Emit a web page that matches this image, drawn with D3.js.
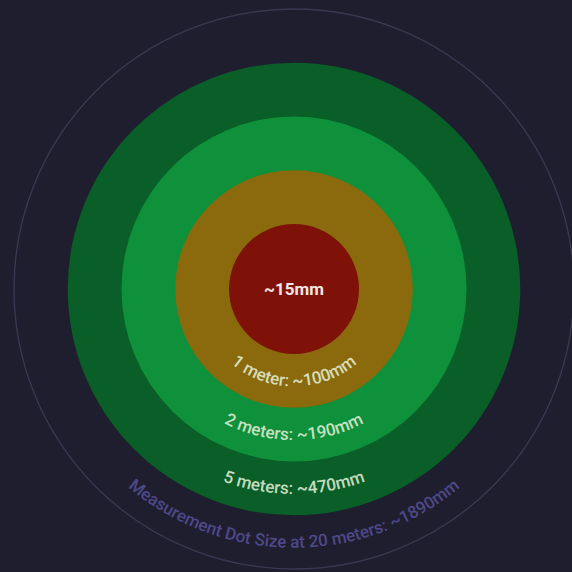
<!DOCTYPE html>
<html>
<head>
<meta charset="utf-8">
<script src="https://cdn.jsdelivr.net/npm/d3@7"></script>
<style>
	html, body { margin: 0; padding: 0; background: #1f1e2e; overflow: hidden; }
	svg { display: block; }
</style>
</head>
<body>
<div id="chart"></div>
<script>
// distances in meters and dot size
var distances = [0.15, 1, 2, 5, 20];
var dotSizes = ["~15mm", "~100mm", "~190mm", "~470mm", "~1890mm"];
var ringLabels = ["~15mm", "1 meter: ~100mm", "2 meters: ~190mm", "5 meters: ~470mm", "Measurement Dot Size at 20 meters: ~1890mm"];
var ringColors = ["#7e1208", "#8a6a0c", "#0f903b", "#0a5e28", "none"];

var width = 572,
	height = 572,
	cx = 294,
	cy = 289;

var svg = d3.select("#chart")
	.append("svg")
	.attr("width", width)
	.attr("height", height);

// each ring is one step further out
var r = d3.scalePoint()
	.domain(distances)
	.range([65, 280]);

var step = r.step();

var rings = distances.map(function (d, i) {
	return {
		dist: d,
		size: dotSizes[i],
		label: ringLabels[i],
		color: ringColors[i],
		i: i
	};
});

// draw biggest first
var g = svg.append("g");

g.selectAll("circle")
	.data(rings.slice().reverse())
	.join("circle")
	.attr("cx", cx)
	.attr("cy", cy)
	.attr("r", function (d) { return r(d.dist); })
	.attr("fill", function (d) { return d.color; })
	.attr("stroke", function (d) { return d.color == "none" ? "#3a3952" : null; })
	.attr("stroke-width", 1.3);

// curved labels on the bottom of each band
var defs = svg.append("defs");
var fs = 17;

rings.slice(1).forEach(function (d) {
	var rr = r(d.dist) - step / 2 + fs * 0.33;
	defs.append("path")
		.attr("id", "arc" + d.i)
		.attr("d", "M" + (cx - rr) + "," + cy + " A" + rr + "," + rr + " 0 0 0 " + (cx + rr) + "," + cy);
});

svg.selectAll("text.ring")
	.data(rings.slice(1))
	.join("text")
	.attr("class", "ring")
	.style("font-family", "Roboto, sans-serif")
	.style("font-size", fs + "px")
	.style("font-weight", 500)
	.attr("fill", function (d) { return d.color == "none" ? "#4d4889" : "rgba(225,238,215,0.88)"; })
	.append("textPath")
	.attr("href", function (d) { return "#arc" + d.i; })
	.attr("startOffset", "50%")
	.attr("text-anchor", "middle")
	.text(function (d) { return d.label; });

svg.append("text")
	.attr("x", cx)
	.attr("y", cy)
	.attr("text-anchor", "middle")
	.attr("dominant-baseline", "central")
	.style("font-family", "Roboto, sans-serif")
	.style("font-size", "17px")
	.style("font-weight", 700)
	.attr("fill", "#f2e6e4")
	.text(rings[0].label);
</script>
</body>
</html>
